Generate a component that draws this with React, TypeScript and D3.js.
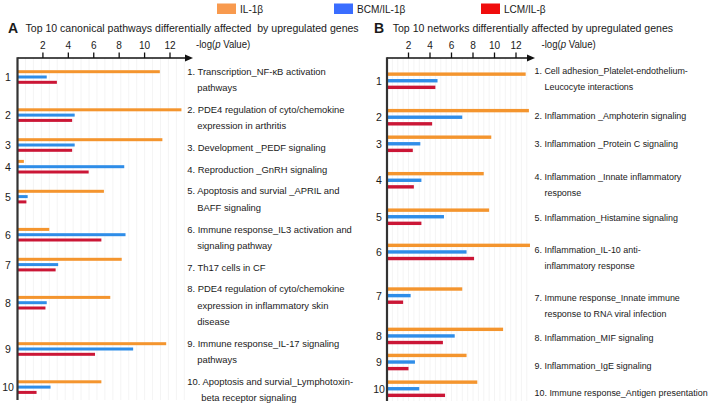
import React from 'react';
import * as d3 from 'd3';

// ---------- data ----------
const seriesNames = ['IL-1β', 'BCM/IL-1β', 'LCM/IL-β'];
const tickValues = [2, 4, 6, 8, 10, 12];

const pathwayLabels: string[][] = [
  ['1. Transcription_NF-κB activation', 'pathways'],
  ['2. PDE4 regulation of cyto/chemokine', 'expression in arthritis'],
  ['3. Development _PEDF signaling'],
  ['4. Reproduction _GnRH signaling'],
  ['5. Apoptosis and survial _APRIL and', 'BAFF signaling'],
  ['6. Immune response_IL3 activation and', 'signaling pathway'],
  ['7. Th17 cells in CF'],
  ['8. PDE4 regulation of cyto/chemokine', 'expression in inflammatory skin', 'disease'],
  ['9. Immune response_IL-17 signaling', 'pathways'],
  ['10. Apoptosis and survial_Lymphotoxin-', 'beta receptor signaling'],
];
const il1bA = [11.2, 12.9, 11.4, 0.5, 6.8, 2.5, 8.2, 7.3, 11.7, 6.6];
const bcmA = [2.3, 4.5, 4.5, 8.4, 0.8, 8.5, 3.2, 2.3, 9.1, 2.6];
const lcmA = [3.1, 4.3, 4.3, 5.6, 0.7, 6.6, 3.0, 2.2, 6.1, 1.5];

const networkLabels: string[][] = [
  ['1. Cell adhesion_Platelet-endothelium-', 'Leucocyte interactions'],
  ['2. Inflammation _Amphoterin signaling'],
  ['3. Inflammation _Protein C signaling'],
  ['4. Inflammation _Innate inflammatory', 'response'],
  ['5. Inflammation_Histamine signaling'],
  ['6. Inflammation_IL-10 anti-', 'inflammatory response'],
  ['7. Immune response_Innate immune', 'response to RNA viral infection'],
  ['8. Inflammation_MIF signaling'],
  ['9. Inflammation_IgE signaling'],
  ['10. Immune response_Antigen presentation'],
];
const il1bB = [12.9, 13.2, 9.7, 9.0, 9.5, 13.3, 7.0, 10.8, 7.4, 8.4];
const bcmB = [4.7, 7.0, 3.1, 3.2, 5.3, 7.4, 2.2, 6.3, 2.6, 3.0];
const lcmB = [4.5, 4.2, 2.4, 2.5, 3.2, 8.1, 1.5, 5.2, 2.0, 5.4];

// layout of panel B rows (in text-line units, hand placed in the original)
const labelRowB = [0, 2.79, 4.56, 6.61, 9.19, 11.15, 14.15, 16.69, 18.4, 20.11];
const groupRowB = [0.59, 2.87, 4.53, 6.81, 9.09, 11.29, 14.02, 16.54, 18.17, 19.84];

// ---------- styles ----------
const legendColors = ['#F89A4E', '#3A6DFF', '#F00D0D'];
const barColors = ['#F4952E', '#2F8DE8', '#CB1636'];
const FONT = 'Liberation Sans, Arial, sans-serif';
const SX = 0.96;

type TP = { x: number; y: number; size: number; children: React.ReactNode; bold?: boolean; anchor?: string; fill?: string; sx?: number };
function T({ x, y, size, children, bold, anchor, fill, sx }: TP) {
  return (
    <text
      transform={`translate(${x},${y}) scale(${sx ?? SX},1)`}
      fontSize={size}
      fontFamily={FONT}
      fontWeight={bold ? 'bold' : 'normal'}
      textAnchor={anchor || 'start'}
      dominantBaseline="central"
      fill={fill || '#1a1a1a'}
      style={{ whiteSpace: 'pre' }}
    >
      {children}
    </text>
  );
}

type PanelProps = {
  letter: string;
  title: string;
  titleX: number;
  letterX: number;
  x: d3.ScaleLinear<number, number>;
  axisEnd: number;
  axisLabelX: number;
  bottom: number;
  groupY: number[];
  labelY: number[][];
  labels: string[][];
  series: number[][];
  numX: number;
  textX: number;
  barGap: number;
  barH: number;
  gridStep: number;
  labelSize: number;
  labelSX: number;
};

function Panel(p: PanelProps) {
  const x0 = p.x(0);
  const axisY = 58;
  const gridVals = d3.range(p.gridStep, p.x.invert(p.axisEnd - 4), p.gridStep);
  return (
    <g>
      <T x={p.letterX} y={28} size={14} bold sx={1}>{p.letter}</T>
      <T x={p.titleX} y={28} size={11}>{p.title}</T>
      {gridVals.map((v, i) => (
        <line key={'g' + i} x1={p.x(v)} x2={p.x(v)} y1={axisY} y2={p.bottom} stroke="#f1f1f1" strokeWidth={0.8} />
      ))}
      {/* bars */}
      {p.series.map((vals, s) =>
        vals.map((v, i) => (
          <rect
            key={`b${s}-${i}`}
            x={x0}
            y={p.groupY[i] + (s - 1) * p.barGap - p.barH / 2}
            width={p.x(v) - x0}
            height={p.barH}
            fill={barColors[s]}
          />
        ))
      )}
      {/* axes */}
      <line x1={x0} x2={p.axisEnd - 5} y1={axisY} y2={axisY} stroke="#111" strokeWidth={1.5} />
      <path d={`M${p.axisEnd},${axisY} L${p.axisEnd - 8},${axisY - 3.5} L${p.axisEnd - 8},${axisY + 3.5} Z`} fill="#111" />
      <line x1={x0} x2={x0} y1={axisY - 0.75} y2={p.bottom} stroke="#333" strokeWidth={2.2} />
      {tickValues.map((t) => (
        <g key={'t' + t}>
          <line x1={p.x(t)} x2={p.x(t)} y1={axisY} y2={axisY - 5.5} stroke="#111" strokeWidth={1.3} />
          <T x={p.x(t)} y={45} size={10.5} anchor="middle">{String(t)}</T>
        </g>
      ))}
      <text
        transform={`translate(${p.axisLabelX},44) scale(${SX},1)`}
        fontSize={10}
        fontFamily={FONT}
        dominantBaseline="central"
        fill="#1a1a1a"
      >
        -log(<tspan fontStyle="italic">p</tspan> Value)
      </text>
      {/* group numbers */}
      {p.groupY.map((y, i) => (
        <T key={'n' + i} x={p.numX} y={y} size={11} anchor="middle">{String(i + 1)}</T>
      ))}
      {/* labels */}
      {p.labels.map((lines, i) =>
        lines.map((ln, k) => (
          <T
            key={`l${i}-${k}`}
            x={k === 0 ? p.textX : p.textX + (i >= 9 ? 14 : 10)}
            y={p.labelY[i][k]}
            size={p.labelSize}
            sx={p.labelSX}
          >
            {ln}
          </T>
        ))
      )}
    </g>
  );
}

export default function App() {
  // Panel A: rows follow the label line counts
  const lineA = d3.scaleLinear().domain([0, 1]).range([71.3, 71.3 + 16.4]);
  const gapA = 5.3 / 16.4;
  const labelYA: number[][] = [];
  const groupYA: number[] = [];
  let u = 0;
  pathwayLabels.forEach((lines) => {
    labelYA.push(lines.map((_, k) => lineA(u + k)));
    groupYA.push(lineA(u + (lines.length - 1) / 2) - 2.5);
    u += lines.length + gapA;
  });

  // Panel B: hand placed rows
  const lineB = d3.scaleLinear().domain([0, 1]).range([71.3, 71.3 + 16]);
  const labelYB = networkLabels.map((lines, i) => lines.map((_, k) => lineB(labelRowB[i] + k)));
  const groupYB = groupRowB.map((r) => lineB(r));

  const xA = d3.scaleLinear().domain([0, 12]).range([17.5, 170]);
  const xB = d3.scaleLinear().domain([0, 12]).range([387, 516]);

  const legendX = [217, 334, 481];

  return (
    <svg width={714} height={406} style={{ position: 'absolute', left: 0, top: 0, background: '#fff' }}>
      <rect width={714} height={406} fill="#fff" />
      {seriesNames.map((n, i) => (
        <g key={n}>
          <rect x={legendX[i]} y={3.5} width={19} height={10.5} fill={legendColors[i]} />
          <T x={legendX[i] + 23} y={9} size={10.5}>{n}</T>
        </g>
      ))}
      <Panel
        letter="A"
        title="Top 10 canonical pathways differentially affected  by upregulated genes"
        letterX={8}
        titleX={25.5}
        x={xA}
        axisEnd={193}
        axisLabelX={196}
        bottom={400}
        groupY={groupYA}
        labelY={labelYA}
        labels={pathwayLabels}
        series={[il1bA, bcmA, lcmA]}
        numX={8}
        textX={187.3}
        barGap={5.3}
        barH={3}
        gridStep={0.625}
        labelSize={9.8}
        labelSX={0.96}
      />
      <Panel
        letter="B"
        title="Top 10 networks differentially affected by upregulated genes"
        letterX={374}
        titleX={392.7}
        x={xB}
        axisEnd={535}
        axisLabelX={541.5}
        bottom={401}
        groupY={groupYB}
        labelY={labelYB}
        labels={networkLabels}
        series={[il1bB, bcmB, lcmB]}
        numX={379}
        textX={534.5}
        barGap={6.6}
        barH={3.4}
        gridStep={0.5}
        labelSize={9.6}
        labelSX={0.93}
      />
    </svg>
  );
}
